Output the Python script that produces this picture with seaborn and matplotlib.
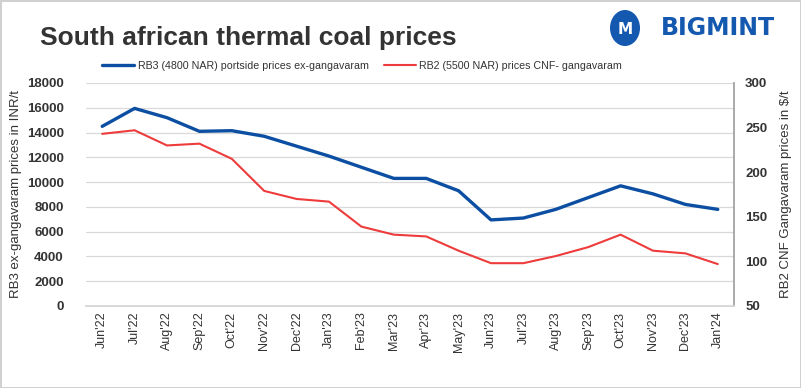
import matplotlib
matplotlib.use('Agg')
import matplotlib.pyplot as plt
import seaborn as sns
import pandas as pd
import numpy as np

months = ["Jun'22", "Jul'22", "Aug'22", "Sep'22", "Oct'22", "Nov'22", "Dec'22", "Jan'23",
          "Feb'23", "Mar'23", "Apr'23", "May'23", "Jun'23", "Jul'23", "Aug'23", "Sep'23",
          "Oct'23", "Nov'23", "Dec'23", "Jan'24"]
rb3_inr = [14500, 15950, 15200, 14100, 14150, 13700, 12900, 12100, 11200, 10300,
           10300, 9300, 6950, 7100, 7800, 8750, 9700, 9050, 8200, 7800]
rb2_usd = [243, 247, 230, 232, 215, 179, 170, 167, 139, 130,
           128, 112, 98, 98, 106, 116, 130, 112, 109, 97]

df = pd.DataFrame({'month': months, 'idx': range(len(months)), 'rb3': rb3_inr, 'rb2': rb2_usd})

sns.set_theme(style='white')
plt.rcParams['font.family'] = ['Liberation Sans', 'DejaVu Sans']

BLUE = '#0b4ea2'
RED = '#ee3b3b'
GRID = '#d9d9d9'
TXT = '#333333'

fig = plt.figure(figsize=(8.01, 3.88), dpi=100)
fig.patch.set_edgecolor('#d0d0d0')
fig.patch.set_linewidth(2)
ax = fig.add_axes([86/801, 1-306/388, (734-86)/801, (306-83)/388])
ax2 = ax.twinx()

sns.lineplot(data=df, x='idx', y='rb3', ax=ax, color=BLUE, linewidth=2.4, legend=False)
sns.lineplot(data=df, x='idx', y='rb2', ax=ax2, color=RED, linewidth=1.5, legend=False)

ax.set_xlim(-0.5, len(months) - 0.5)
ax.set_ylim(0, 18000)
ax.set_yticks(np.arange(0, 18001, 2000))
ax2.set_ylim(50, 300)
ax2.set_yticks(np.arange(50, 301, 50))
ax.set_xticks(df['idx'])
ax.set_xticklabels(months, rotation=90, fontsize=9, color=TXT)
ax.tick_params(axis='x', length=0, pad=4)
ax.tick_params(axis='y', length=0, pad=16)
ax2.tick_params(axis='y', length=0, pad=8)
for lab in ax.get_yticklabels():
    lab.set_fontweight('bold'); lab.set_fontsize(9.5); lab.set_color(TXT)
for lab in ax2.get_yticklabels():
    lab.set_fontweight('bold'); lab.set_fontsize(9.5); lab.set_color(TXT)

ax.grid(axis='y', color=GRID, linewidth=0.9)
ax.set_axisbelow(True)
for a in (ax, ax2):
    for s in ['top', 'left']:
        a.spines[s].set_visible(False)
    a.spines['bottom'].set_color(GRID)
    a.spines['right'].set_color('#a0a0a0')
ax.spines['right'].set_visible(False)

ax.set_xlabel('')
ax.set_ylabel('RB3 ex-gangavaram prices in INR/t', fontsize=9.5, color=TXT)
ax2.set_ylabel('RB2 CNF Gangavaram prices in $/t', fontsize=9.5, color=TXT, labelpad=9)
ax.yaxis.set_label_coords(-64/648, 0.5)

fig.text(40/801, 1-38/388, 'South african thermal coal prices', fontsize=19, fontweight='bold',
         color=TXT, va='center', ha='left')

# legend
from matplotlib.lines import Line2D
handles = [Line2D([0], [0], color=BLUE, linewidth=2.4, label='RB3 (4800 NAR) portside prices ex-gangavaram'),
           Line2D([0], [0], color=RED, linewidth=1.5, label='RB2 (5500 NAR) prices CNF- gangavaram')]
fig.legend(handles=handles, loc='center', bbox_to_anchor=(362/801, 1-66/388), ncol=2, frameon=False,
           fontsize=7.7, handlelength=3.0, columnspacing=1.4, handletextpad=0.3,
           labelcolor=TXT)

# BIGMINT logo
fig.text(775/801, 1-28/388, 'BIGMINT', fontsize=17, fontweight='bold', color='#1458b0',
         ha='right', va='center', family=['DejaVu Sans'])
fig.patches.append(matplotlib.patches.Ellipse((625/801, 1-28/388), 30/801, 36/388,
                   transform=fig.transFigure, facecolor='#1458b0', edgecolor='none'))
fig.text(625/801, 1-30/388, 'M', fontsize=11, fontweight='bold', color='white',
         ha='center', va='center', family=['DejaVu Sans'])

fig.savefig('out.png', dpi=100)
